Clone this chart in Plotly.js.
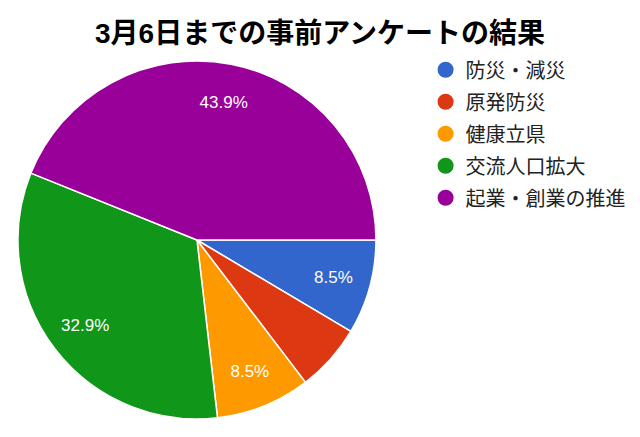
<!DOCTYPE html>
<html><head><meta charset="utf-8">
<script src="https://cdn.plot.ly/plotly-3.0.1.min.js"></script>
<style>html,body{margin:0;padding:0;background:#fff}#chart{width:640px;height:437px}</style>
</head><body><div id="chart"></div>
<script>
const categories = ['防災・減災', '原発防災', '健康立県', '交流人口拡大', '起業・創業の推進'];
const counts = [7, 5, 7, 27, 36];
const colors = ['#3366cc', '#dc3912', '#ff9900', '#109618', '#990099'];
const labelTemplates = ['%{percent:.1%}', '', '%{percent:.1%}', '%{percent:.1%}', '%{percent:.1%}'];

const FONT = '"Liberation Sans", "Noto Sans CJK JP", Arial, sans-serif';
const DOMAIN = {x: [0.028, 0.5875], y: [0.0412, 0.8604]};

const traces = [{
  type: 'pie',
  labels: categories,
  values: counts,
  sort: false,
  direction: 'clockwise',
  rotation: 90,
  marker: {colors: colors, line: {color: '#ffffff', width: 1.5}},
  textinfo: 'none',
  hoverinfo: 'label+percent',
  showlegend: false,
  domain: DOMAIN
}, {
  // transparent ring that only carries the percentage labels
  type: 'pie',
  labels: categories,
  values: counts,
  sort: false,
  direction: 'clockwise',
  rotation: 90,
  hole: 0.57,
  marker: {colors: categories.map(() => 'rgba(0,0,0,0)'), line: {width: 0}},
  texttemplate: labelTemplates,
  textposition: 'inside',
  insidetextorientation: 'horizontal',
  insidetextfont: {color: '#ffffff', size: 17, family: FONT},
  hoverinfo: 'skip',
  showlegend: false,
  domain: DOMAIN
}];

categories.forEach((c, i) => {
  traces.push({
    type: 'scatter', mode: 'markers', x: [null], y: [null],
    name: c, legendgroup: 'g' + i,
    marker: {color: colors[i], size: 20, symbol: 'circle'},
    showlegend: true, hoverinfo: 'skip'
  });
});

const layout = {
  width: 640, height: 437,
  margin: {l: 0, r: 0, t: 0, b: 0},
  paper_bgcolor: '#ffffff', plot_bgcolor: '#ffffff',
  title: {text: '<b>3月6日までの事前アンケートの結果</b>', font: {family: FONT, size: 28, color: '#000000'},
          x: 0.5, xanchor: 'center', y: 0.925, yanchor: 'middle'},
  xaxis: {visible: false, domain: [0.99, 1]},
  yaxis: {visible: false, domain: [0.99, 1]},
  showlegend: true,
  legend: {x: 0.665, xanchor: 'left', y: 0.885, yanchor: 'top',
           font: {family: '"Noto Sans CJK JP", sans-serif', size: 20, color: '#222222'},
           tracegroupgap: 3, itemsizing: 'trace', bgcolor: 'rgba(0,0,0,0)'}
};

Plotly.newPlot('chart', traces, layout, {displayModeBar: false, staticPlot: true});
</script></body></html>
